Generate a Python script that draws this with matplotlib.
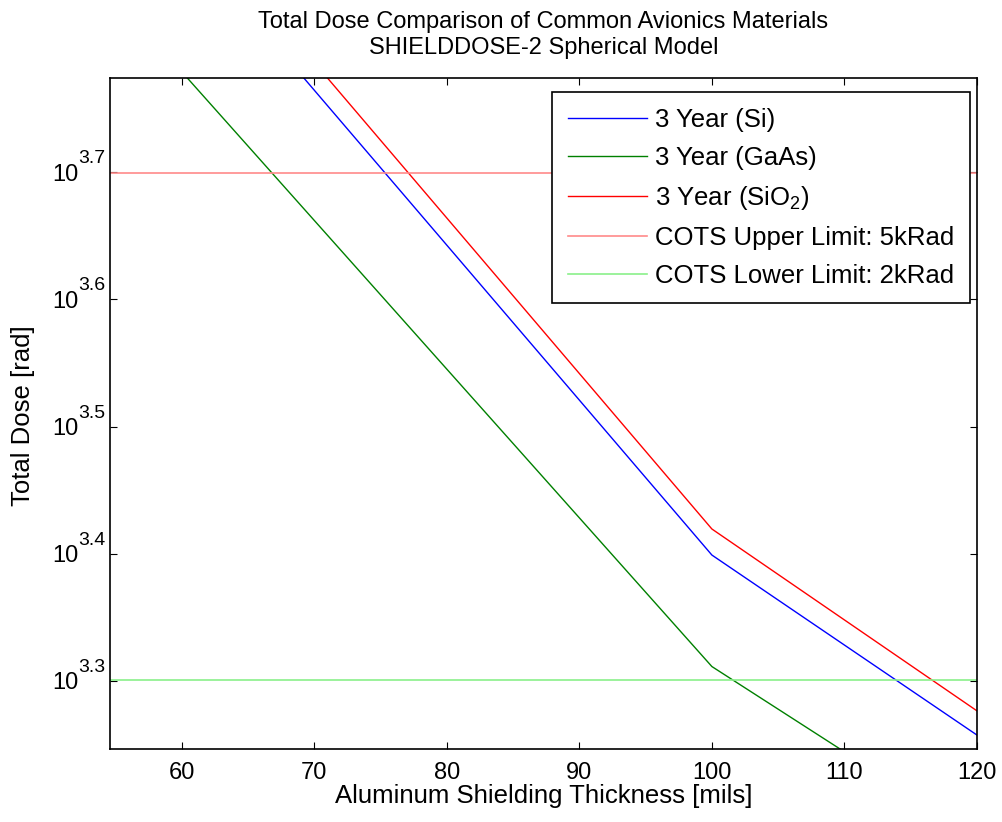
import matplotlib
matplotlib.use("Agg")
import matplotlib.pyplot as plt
from matplotlib.ticker import FixedLocator, NullFormatter, NullLocator

plt.rcParams['font.family'] = ['Liberation Sans', 'DejaVu Sans']
plt.rcParams['mathtext.fontset'] = 'custom'
plt.rcParams['mathtext.rm'] = 'Liberation Sans'
plt.rcParams['mathtext.it'] = 'Liberation Sans:italic'
plt.rcParams['mathtext.bf'] = 'Liberation Sans:bold'

# Aluminum shielding thickness [mils] and 3-year total dose [rad]
thickness = [50, 100, 120]
dose_si = [10190, 2506, 1809]
dose_gaas = [7870, 2048, 1504]
dose_sio2 = [10735, 2627, 1890]

# COTS tolerance limits [rad]
cots_upper = 5000
cots_lower = 2000

x_ticks = [60, 70, 80, 90, 100, 110, 120]
y_tick_exponents = [3.3, 3.4, 3.5, 3.6, 3.7]
x_limits = (54.6, 120)
y_limit_exponents = (3.2465, 3.774)

fig = plt.figure(figsize=(10.03, 8.22), dpi=100)
ax = fig.add_axes([0.1097, 0.0888, 0.8644, 0.8163])

ax.plot(thickness, dose_si, color='#0000ff', lw=1.0, label='3 Year (Si)')
ax.plot(thickness, dose_gaas, color='#008000', lw=1.0, label='3 Year (GaAs)')
ax.plot(thickness, dose_sio2, color='#ff0000', lw=1.0, label='3 Year (SiO$_2$)')
ax.axhline(cots_upper, color='#ff8a8a', lw=1.2, label='COTS Upper Limit: 5kRad')
ax.axhline(cots_lower, color='#8af08a', lw=1.2, label='COTS Lower Limit: 2kRad')

ax.set_yscale('log')
ax.set_xlim(*x_limits)
ax.set_ylim(10 ** y_limit_exponents[0], 10 ** y_limit_exponents[1])

ax.xaxis.set_major_locator(FixedLocator(x_ticks))
ax.yaxis.set_major_locator(FixedLocator([10 ** e for e in y_tick_exponents]))
ax.yaxis.set_minor_locator(NullLocator())
ax.yaxis.set_major_formatter(NullFormatter())
ax.yaxis.set_minor_formatter(NullFormatter())

ax.tick_params(axis='both', which='major', direction='in', length=5, width=0.8,
               top=True, right=True, labelsize=17)
ax.tick_params(axis='x', pad=9.5)
for sp in ax.spines.values():
    sp.set_linewidth(1.2)

# Power-of-ten tick labels: base and raised exponent drawn as two text pieces
ytrans = ax.get_yaxis_transform()
for e in y_tick_exponents:
    ax.annotate('10', xy=(0, 10 ** e), xycoords=ytrans, xytext=(-32, -8.5),
                textcoords='offset pixels', ha='right', va='baseline', fontsize=17)
    ax.annotate('%.1f' % e, xy=(0, 10 ** e), xycoords=ytrans, xytext=(-32, 9),
                textcoords='offset pixels', ha='left', va='baseline', fontsize=14)

ax.set_xlabel('Aluminum Shielding Thickness [mils]', fontsize=18.5, labelpad=0)
ax.set_ylabel('Total Dose [rad]', fontsize=18.5)
ax.yaxis.set_label_coords(-0.0865, 0.497)
ax.set_title('Total Dose Comparison of Common Avionics Materials\nSHIELDDOSE-2 Spherical Model',
             fontsize=17, pad=17, linespacing=1.27)

leg = ax.legend(loc='upper right', bbox_to_anchor=(0.992, 0.979), fontsize=18.5,
                fancybox=False, edgecolor='black', framealpha=1,
                handlelength=3.1, handletextpad=0.3, borderpad=0.62,
                labelspacing=0.54, borderaxespad=0)
leg.get_frame().set_linewidth(1.2)

fig.savefig('out.png', dpi=100)
